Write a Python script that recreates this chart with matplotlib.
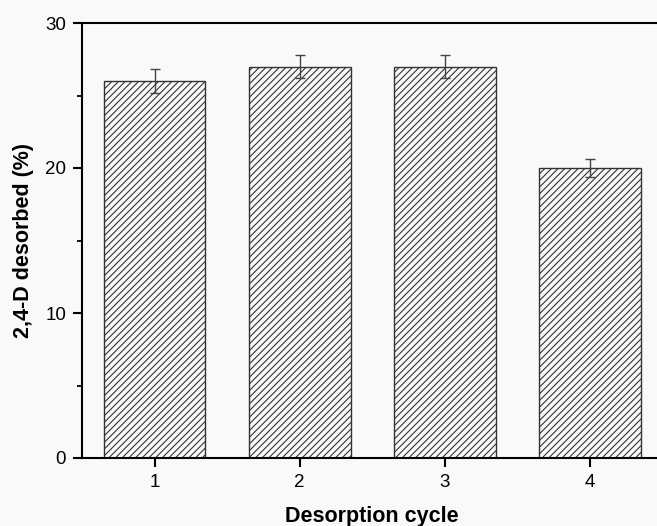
import matplotlib
matplotlib.use("Agg")
import matplotlib.pyplot as plt
from matplotlib.ticker import MultipleLocator

cycles = [1, 2, 3, 4]
desorbed = [26.0, 27.0, 27.0, 20.0]
errors = [0.8, 0.8, 0.8, 0.6]
y_ticks = [0, 10, 20, 30]

plt.rcParams['font.family'] = ['Liberation Sans', 'DejaVu Sans']
plt.rcParams['hatch.linewidth'] = 0.8
plt.rcParams['hatch.color'] = '#444444'

bg = '#f9f9f9'
fig = plt.figure(figsize=(6.57, 5.26), dpi=100, facecolor=bg)
ax = fig.add_axes([82 / 657, (526 - 458) / 526, (662.6 - 82) / 657, (458 - 23) / 526])
ax.set_facecolor(bg)

ax.bar(cycles, desorbed, width=0.7, color=bg, edgecolor='#333333',
       linewidth=1.0, hatch='/////', zorder=2)
ax.errorbar(cycles, desorbed, yerr=errors, fmt='none', ecolor='#444444',
            elinewidth=1.0, capsize=3.3, capthick=1.0, zorder=3)

ax.set_xlim(0.5, 4.5)
ax.set_ylim(0, 30)
ax.set_xticks(cycles)
ax.set_yticks(y_ticks)
ax.yaxis.set_minor_locator(MultipleLocator(5))

for side in ['left', 'bottom', 'top']:
    ax.spines[side].set_linewidth(1.5)
ax.spines['right'].set_visible(False)

ax.tick_params(axis='both', which='major', direction='out', length=6.5,
               width=1.5, labelsize=13.5, pad=5)
ax.tick_params(axis='y', which='minor', direction='out', length=3.6, width=1.3)
ax.tick_params(axis='x', which='minor', bottom=False)

ax.set_xlabel('Desorption cycle', fontsize=15.5, fontweight='bold', labelpad=11)
ax.set_ylabel('2,4-D desorbed (%)', fontsize=15.5, fontweight='bold', labelpad=8)

fig.savefig('out.png', dpi=100, facecolor=bg)
